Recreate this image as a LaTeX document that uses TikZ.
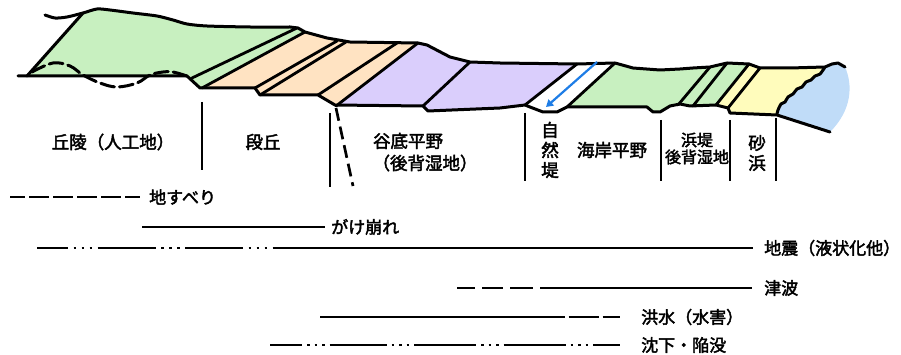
\documentclass[tikz,border=0pt]{standalone}
\usepackage{fontspec}
\setmainfont{Noto Sans CJK JP}[FakeBold=2.4]
\usetikzlibrary{arrows.meta}
\definecolor{hillgreen}{RGB}{200,240,192}
\definecolor{terrace}{RGB}{255,227,194}
\definecolor{valley}{RGB}{218,206,252}
\definecolor{sandy}{RGB}{255,252,188}
\definecolor{seablue}{RGB}{192,220,248}
\definecolor{flowblue}{RGB}{30,125,230}
\begin{document}
\begin{tikzpicture}[x=1pt,y=-1pt,
  outline/.style={line width=3pt,line join=round,line cap=round},
  inner/.style={line width=2.8pt,line cap=round},
  divider/.style={line width=2.7pt},
  legendline/.style={line width=2.6pt},
  lbl/.style={inner sep=0pt,font=\fontsize{17.5}{20}\selectfont},
  smalllbl/.style={inner sep=0pt,align=center,font=\fontsize{16}{17}\selectfont},
  vlbl/.style={inner sep=0pt,align=center,font=\fontsize{17.5}{20}\selectfont},
  legendlbl/.style={inner sep=0pt,anchor=west,font=\fontsize{17}{20}\selectfont}]
\useasboundingbox (0,0) rectangle (901,355);

% ---------- coloured ground units ----------
\fill[hillgreen] (27,76) -- (83,13) -- (97,9) -- (110,10) -- (133,13) -- (157,16) -- (173,20)
  -- (187,24) -- (207,26) -- (250,27) -- (290,27) -- (298,28) -- (305,32) -- (202,88)
  -- (200,88) -- (187,76) -- cycle;
\fill[terrace] (305,32) -- (327,38) -- (350,42) -- (418,43) -- (336,106) -- (335,105)
  -- (318,95) -- (260,95) -- (255,88) -- (202,88) -- cycle;
\fill[valley] (418,43) -- (427,45) -- (450,57) -- (470,62) -- (500,63) -- (577,64)
  -- (525,105) -- (500,108) -- (428,111) -- (423,106) -- (336,106) -- cycle;
\fill[hillgreen] (615,63) -- (633,68) -- (660,70) -- (680,69) -- (693,68) -- (710,67)
  -- (727,63) -- (749,64) -- (716,105) -- (700,106) -- (690,106) -- (680,104) -- (670,106)
  -- (660,112) -- (653,112) -- (647,107) -- (567,107) -- cycle;
\fill[sandy] (749,64) -- (760,68) -- (790,68) -- (825,67)
  -- (820,74) -- (815,76) -- (811,80) -- (806,82) -- (802,87) -- (797,89) -- (793,94)
  -- (788,97) -- (785,102) -- (781,104) -- (778,110) -- (777,114)
  -- (730,113) -- (728,108) -- (716,105) -- cycle;
\fill[seablue] (777,114) -- (778,110) -- (781,104) -- (785,102) -- (788,97) -- (793,94)
  -- (797,89) -- (802,87) -- (806,82) -- (811,80) -- (815,76) -- (820,74) -- (825,67)
  -- (832,64) -- (838,63) -- (845,67) .. controls (853,85) and (852,110) .. (830,132)
  -- cycle;

% ---------- ground surface and base ----------
\draw[outline] plot[smooth,tension=0.45] coordinates {(45,15) (55,18) (67,17) (83,13)
  (97,9) (110,10) (133,13) (157,16) (173,20) (187,24) (207,26) (250,27) (290,27)}
  -- (298,28) -- (305,32) -- (327,38) -- (350,42) -- (418,43) -- (427,45) -- (450,57)
  -- (470,62) -- (500,63) -- (577,64) -- (615,63) -- (633,68) -- (660,70) -- (680,69)
  -- (693,68) -- (710,67) -- (727,63) -- (749,64) -- (760,68) -- (790,68) -- (825,67)
  -- (832,64) -- (838,63) -- (845,67);
\draw[outline] (27,76) -- (83,13);
\draw[outline] (18,76) -- (187,76) -- (200,88) -- (255,88) -- (260,95) -- (318,95)
  -- (335,105) -- (423,106) -- (428,111) -- (500,108) -- (525,105) -- (530,107)
  -- (543,112) -- (557,112) -- (567,107) -- (647,107) -- (653,112) -- (660,112)
  -- (670,106) -- (680,104) -- (690,106) -- (716,105) -- (728,108) -- (730,113)
  -- (777,115) -- (830,132);
% coastline
\draw[outline] plot[smooth,tension=0.5] coordinates {(825,67) (820,74) (815,76) (811,80)
  (806,82) (802,87) (797,89) (793,94) (788,97) (785,102) (781,104) (778,110) (777,114)};
% buried hill surface under the fill
\draw[outline,dash pattern=on 14pt off 5pt] plot[smooth,tension=0.6] coordinates {(32,72)
  (53,63) (70,66) (83,75) (100,83) (117,87) (137,83) (150,75) (163,72) (173,72) (187,76)};

% ---------- unit boundaries ----------
\draw[inner] (297,28) -- (192,78);
\draw[inner] (305,32) -- (202,88);
\draw[inner] (337,41) -- (255,88);
\draw[inner] (346,42) -- (260,95);
\draw[inner] (397,43) -- (318,95);
\draw[inner] (418,43) -- (336,106);
\draw[inner] (470,62) -- (423,106);
\draw[inner] (577,64) -- (525,105);
\draw[inner] (615,63) -- (567,107);
\draw[inner] (710,67) -- (678,105);
\draw[inner] (727,63) -- (693,106);
\draw[inner] (749,64) -- (716,105);
\draw[inner] (760,68) -- (728,108);

% river flow in the levee
\draw[flowblue,line width=2.2pt,-{Triangle[length=7pt,width=8pt]}] (597,62) -- (546,107);

% ---------- section dividers ----------
\draw[divider] (202,102) -- (202,170);
\draw[divider] (330,113) -- (330,187);
\draw[divider,dash pattern=on 13pt off 6pt] (336,108) -- (353,186);
\draw[divider] (525,113) -- (525,181);
\draw[divider] (661,120) -- (661,181);
\draw[divider] (730,120) -- (730,181);
\draw[divider] (776,118) -- (776,181);

% ---------- landform names ----------
\node[lbl] (hill) at (113,142) {丘陵（人工地）};
\node[lbl] (terr) at (263,142) {段丘};
\node[lbl] (vfloor) at (408,141) {谷底平野};
\node[lbl] (vback) at (425,163) {（後背湿地）};
\begin{scope}
  \clip (530,100) rectangle (572,181);
  \node[vlbl] (levee) at (550,160) {自\\然\\堤\\防};
\end{scope}
\node[lbl] (coast) at (612,150) {海岸平野};
\node[smalllbl] (ridge) at (697,148.5) {浜堤\\後背湿地};
\node[vlbl] (beach) at (757,153) {砂\\浜};

% ---------- hazard ranges ----------
\node[legendlbl] (slide) at (149,197) {地すべり};
\node[legendlbl] (cliff) at (331,227) {がけ崩れ};
\node[legendlbl] (quake) at (764,248) {地震（液状化他）};
\node[legendlbl] (tsunami) at (764,288) {津波};
\node[legendlbl] (flood) at (641,317) {洪水（水害）};
\node[legendlbl] (sink) at (641,345) {沈下・陥没};

\coordinate (slideS) at (10,197);
\coordinate (cliffS) at (142,227);
\coordinate (quakeS) at (37,248);
\coordinate (tsunamiS) at (457,288);
\coordinate (floodS) at (320,317);
\coordinate (sinkS) at (270,345);

\draw[legendline,dash pattern=on 15pt off 4pt on 20pt off 4pt on 20pt off 4pt on 20pt off 4pt on 20pt off 4pt on 20pt off 4pt]
  (slideS) -- ([xshift=-9pt]slide.west);
\draw[legendline] (cliffS) -- ([xshift=-6pt]cliff.west);
\draw[legendline,dash pattern=on 31pt off 5.5pt on 2.5pt off 5.5pt on 2.5pt off 5.5pt on 2.5pt off 5.5pt
  on 58pt off 5.5pt on 2.5pt off 5.5pt on 2.5pt off 5.5pt on 2.5pt off 5.5pt
  on 58pt off 5.5pt on 2.5pt off 5.5pt on 2.5pt off 5.5pt on 2.5pt off 5.5pt on 600pt off 10pt]
  (quakeS) -- ([xshift=-11pt]quake.west);
\draw[legendline,dash pattern=on 18pt off 7pt on 21pt off 7pt on 23pt off 7pt on 300pt off 10pt]
  (tsunamiS) -- ([xshift=-12pt]tsunami.west);
\draw[legendline,dash pattern=on 245pt off 3.5pt on 30pt off 4pt on 40pt]
  (floodS) -- ([xshift=-21pt]flood.west);
\draw[legendline,dash pattern=on 32pt off 5pt on 2.5pt off 5pt on 2.5pt off 5pt on 2.5pt off 5pt
  on 57pt off 5pt on 2.5pt off 5pt on 2.5pt off 5pt on 2.5pt off 5pt
  on 62pt off 5pt on 2.5pt off 5pt on 2.5pt off 5pt on 2.5pt off 5pt
  on 62pt off 5pt on 2.5pt off 5pt on 2.5pt off 5pt on 2.5pt off 5pt on 60pt off 10pt]
  (sinkS) -- ([xshift=-21pt]sink.west);
\end{tikzpicture}
\end{document}
